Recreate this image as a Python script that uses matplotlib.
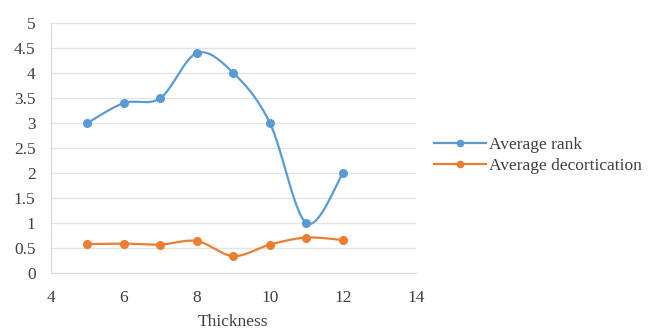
import numpy as np
import matplotlib
matplotlib.use("Agg")
import matplotlib.pyplot as plt

thickness = [5, 6, 7, 8, 9, 10, 11, 12]
avg_rank = [3.0, 3.4, 3.5, 4.4, 4.0, 3.0, 1.0, 2.0]
avg_decort = [0.58, 0.59, 0.57, 0.64, 0.34, 0.57, 0.71, 0.66]
x_ticks = [4, 6, 8, 10, 12, 14]
y_ticks = [0, 0.5, 1, 1.5, 2, 2.5, 3, 3.5, 4, 4.5, 5]


def smooth(xs, ys, n=30):
    p = np.column_stack([xs, ys]).astype(float)
    p = np.vstack([p[0], p, p[-1]])
    out = []
    for i in range(1, len(p) - 2):
        p0, p1, p2, p3 = p[i - 1], p[i], p[i + 1], p[i + 2]
        t = np.linspace(0, 1, n)[:, None]
        c1 = p1 + (p2 - p0) / 6.0
        c2 = p2 - (p3 - p1) / 6.0
        seg = ((1 - t) ** 3) * p1 + 3 * ((1 - t) ** 2) * t * c1 + 3 * (1 - t) * t ** 2 * c2 + t ** 3 * p2
        out.append(seg if i == 1 else seg[1:])
    out = np.vstack(out)
    return out[:, 0], out[:, 1]


plt.rcParams['font.family'] = ['Liberation Serif', 'DejaVu Serif']
fig = plt.figure(figsize=(6.51, 3.29), dpi=100)
ax = fig.add_axes([0.078, 0.170, 0.561, 0.760])

blue = '#5B9BD5'
orange = '#ED7D31'
sx, sy = smooth(thickness, avg_rank)
ax.plot(sx, sy, color=blue, lw=1.6, zorder=3)
ax.plot(thickness, avg_rank, 'o', color=blue, ms=5.5, zorder=4)
ox, oy = smooth(thickness, avg_decort)
ax.plot(ox, oy, color=orange, lw=1.6, zorder=3)
ax.plot(thickness, avg_decort, 'o', color=orange, ms=5.5, zorder=4)

# legend proxies
ax.plot([], [], '-o', color=blue, ms=4.5, lw=1.6, label='Average rank')
ax.plot([], [], '-o', color=orange, ms=4.5, lw=1.6, label='Average decortication')

ax.set_xlim(4, 14)
ax.set_ylim(0, 5)
ax.set_xticks(x_ticks)
ax.set_yticks(y_ticks)
ax.set_yticklabels([f'{v:g}' for v in y_ticks])
ax.grid(axis='y', color='#E3E3E3', lw=0.9)
ax.set_axisbelow(True)
for s in ['top', 'right']:
    ax.spines[s].set_visible(False)
for s in ['left', 'bottom']:
    ax.spines[s].set_color('#D9D9D9')
ax.tick_params(length=0, labelsize=12.5, colors='#404040')
ax.tick_params(axis='x', pad=12)
ax.tick_params(axis='y', pad=11)
ax.set_xlabel('Thickness', fontsize=12.5, color='#404040', labelpad=6)

handles, labels = ax.get_legend_handles_labels()
fig.legend(handles[-2:], labels[-2:], loc='center left', bbox_to_anchor=(0.643, 0.528),
           frameon=False, fontsize=12.5, handlelength=3.0, handletextpad=0.15,
           labelspacing=0.25, labelcolor='#404040')

fig.savefig('out.png', dpi=100)
